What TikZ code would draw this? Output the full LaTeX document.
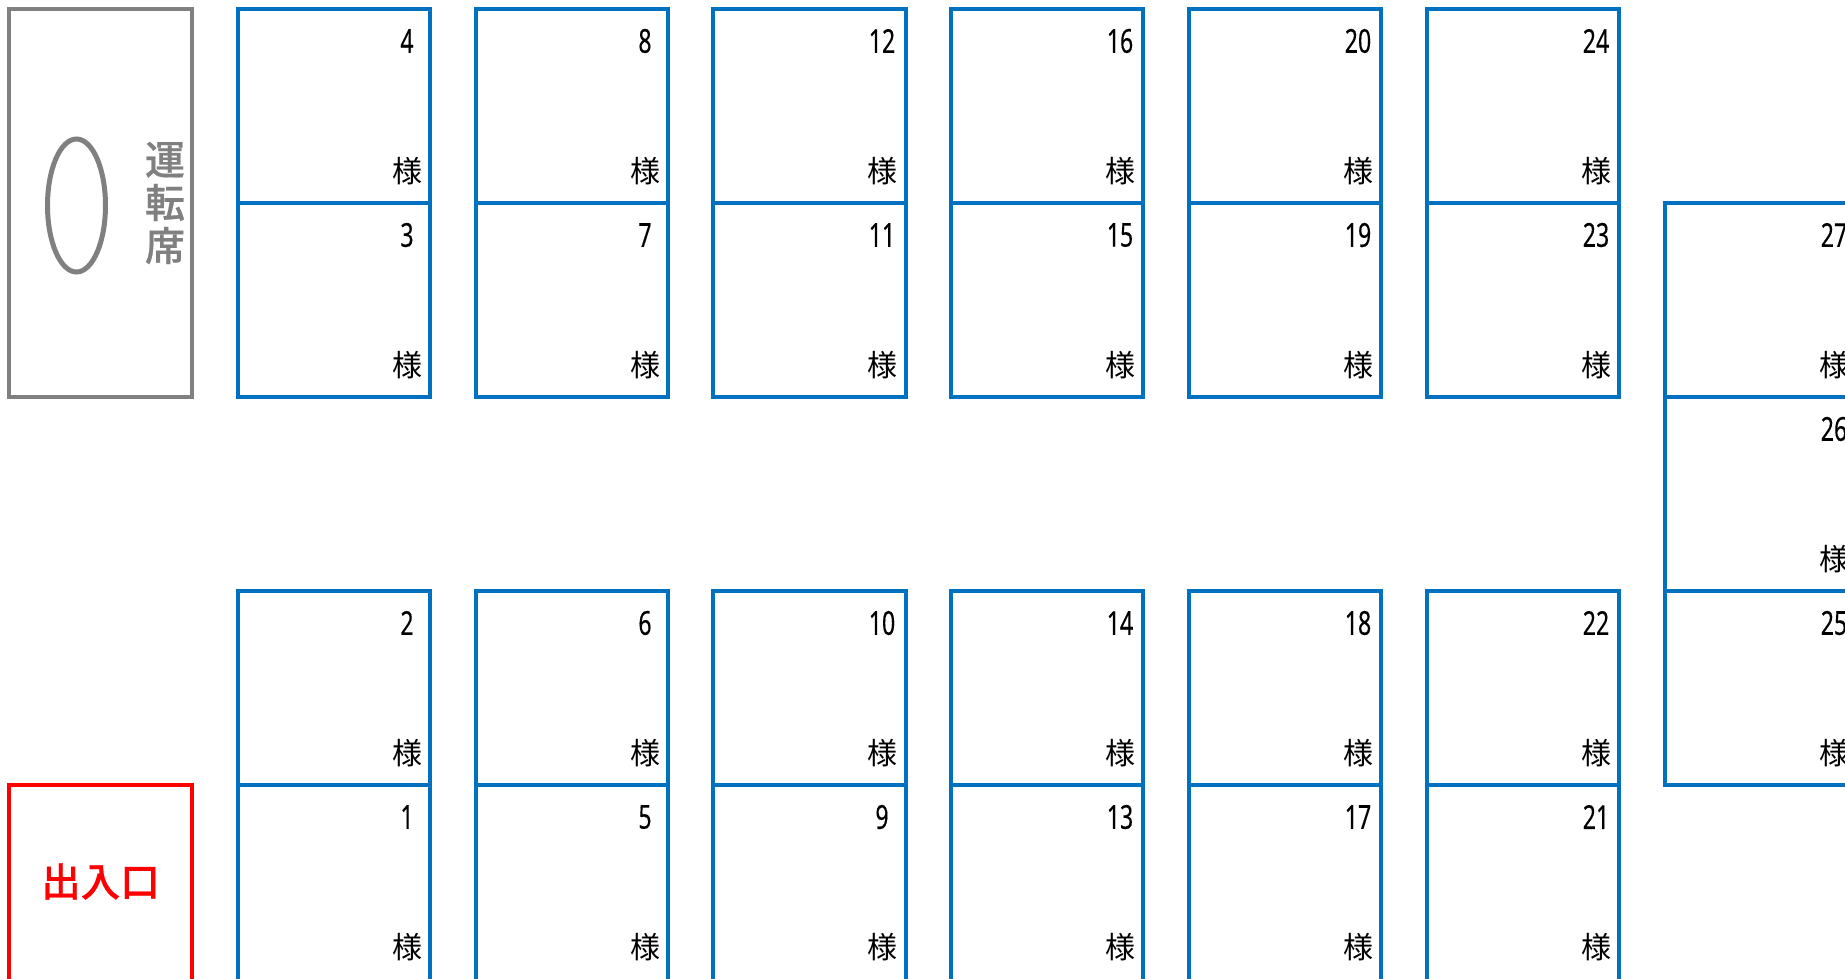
\documentclass[tikz,border=0pt]{standalone}
\usepackage{fontspec}
\usetikzlibrary{calc,shapes.geometric}
\newfontfamily\cjkfont{Noto Sans CJK JP}
\newfontfamily\cjkmed{Noto Sans CJK JP Medium}[FakeBold=0.5]
\newfontfamily\numfont{Noto Sans}[FakeStretch=0.7,FakeBold=0.25]
\definecolor{seatblue}{HTML}{0070C0}
\definecolor{drivergray}{HTML}{808080}
\tikzset{
  seatbox/.style={draw=seatblue,line width=4.2pt,rectangle,minimum width=192pt,minimum height=194pt,inner sep=0pt,outer sep=0pt},
  numlabel/.style={font=\numfont\fontsize{33pt}{33pt}\selectfont,text=black,inner sep=0pt},
  samalabel/.style={font=\cjkfont\fontsize{30pt}{30pt}\selectfont,text=black,inner sep=0pt},
  areabox/.style={line width=4.2pt,rectangle,inner sep=0pt,outer sep=0pt,minimum width=183pt}
}
\newcommand{\seat}[4]{% left x, top y, number, box width
  \node[seatbox,minimum width=#4pt,anchor=north west] (s#3) at (#1,#2) {};
  \node[numlabel] (n#3) at ($(s#3.north west)+(169,32)$) {#3};
  \node[samalabel] (y#3) at ($(s#3.north west)+(169,162.5)$) {様};
}
\begin{document}
\begin{tikzpicture}[x=1pt,y=-1pt]
\useasboundingbox (0,0) rectangle (1845,978);
\clip (0,0) rectangle (1845,978);
\fill[white] (0,0) rectangle (1845,978);
% driver area
\node[areabox,draw=drivergray,anchor=north west,minimum height=388pt] (driver) at (9,9) {};
\node[draw=drivergray,line width=5pt,ellipse,minimum width=58pt,minimum height=133pt,inner sep=0pt,outer sep=0pt] (wheel) at (76.5,205.5) {};
\node[text=drivergray,font=\cjkmed\fontsize{40pt}{43pt}\selectfont,align=center,inner sep=0pt] (drivertext) at (165,203) {運\\転\\席};
% entrance
\node[areabox,draw=red,anchor=north west,minimum height=210pt] (door) at (9,785) {};
\node[text=red,font=\cjkmed\fontsize{39.5pt}{39.5pt}\selectfont,inner sep=0pt] (doortext) at (100.5,881.5) {出入口};
% seats
\foreach \x/\w [count=\i from 0] in {238/192,476/192,713/193,951/192,1189/192,1427/192}{
  \pgfmathtruncatemacro{\a}{4*\i+1}
  \pgfmathtruncatemacro{\b}{4*\i+2}
  \pgfmathtruncatemacro{\c}{4*\i+3}
  \pgfmathtruncatemacro{\d}{4*\i+4}
  \begin{scope}[seatbox/.append style={minimum height=210pt}]
    \seat{\x}{785}{\a}{\w}
  \end{scope}
  \seat{\x}{591}{\b}{\w}
  \seat{\x}{203}{\c}{\w}
  \seat{\x}{9}{\d}{\w}
}
\seat{1665}{591}{25}{192}
\seat{1665}{397}{26}{192}
\seat{1665}{203}{27}{192}
\end{tikzpicture}
\end{document}
